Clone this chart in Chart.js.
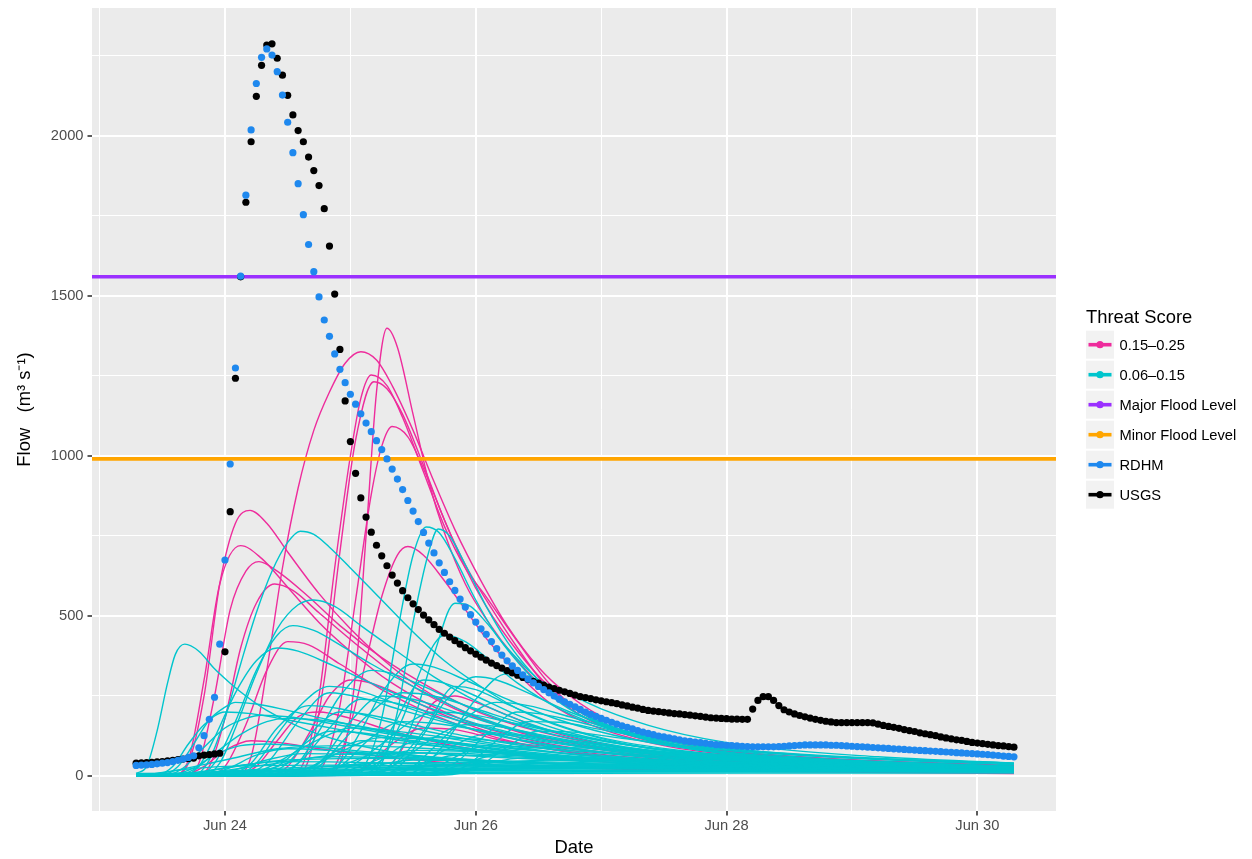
<!DOCTYPE html>
<html><head><meta charset="utf-8">
<script src="https://cdn.jsdelivr.net/npm/chart.js@4/dist/chart.umd.min.js"></script>
<style>html,body{margin:0;padding:0;background:#fff}#wrap{width:1252px;height:859px;position:relative}</style>
</head><body><div id="wrap"><canvas id="c"></canvas></div>
<script>
// hours counted from Jun 24 00:00; hourly series start at Jun 23 07:00
const START_HOUR = -17;
const usgsFlow = [40,41,42,43,44,45,47,49,51,53,55,56,63,65,67,69,71,
388,826,1243,1560,1793,1982,2124,2221,2284,2288,2243,2190,2127,2066,2017,1982,1934,1892,1845,1773,1656,1506,
1333,1172,1045,946,869,809,762,721,688,657,628,603,579,557,538,520,503,488,473,458,446,
434,423,412,401,391,381,371,362,353,345,337,329,322,315,308,302,296,290,284,278,273,268,263,258,253,248,245,242,238,235,232,229,226,222,219,215,212,208,205,203,201,199,197,195,194,192,190,188,186,184,182,181,180,179,178,178,177,
177,209,236,248,248,236,220,207,200,194,189,185,181,177,174,171,169,167,167,167,167,167,167,167,166,162,158,155,152,149,145,142,139,135,132,129,126,122,119,116,113,111,108,105,103,101,99,97,95,94,92,90];
const rdhmFlow = [33,34,35,36,38,40,42,45,49,53,58,63,88,126,177,246,412,
675,975,1275,1562,1815,2019,2164,2246,2272,2253,2201,2128,2043,1948,1851,1754,1661,1576,1497,1425,1374,1319,
1271,1229,1193,1162,1132,1103,1076,1048,1020,991,959,928,895,861,828,795,761,728,697,666,636,607,580,553,528,504,481,460,443,
420,398,378,360,344,330,316,303,291,280,270,260,250,240,232,224,216,208,200,193,186,180,174,168,162,157,152,147,142,137,
133,129,125,122,119,116,113,110,108,106,104,102,100,98,97,96,95,94,93,92,91,91,91,91,91,92,93,94,95,96,
97,97,97,97,97,96,96,95,94,93,92,91,90,89,88,87,86,85,84,83,82,81,80,79,78,77,76,75,74,73,72,71,70,69,68,67,65,64,62,61,60];
const majorFloodLevel = 1560;
const minorFloodLevel = 991;

// ensemble members: [hour, flow] knots
const pinkRuns = [
 [[-17,0],[-10,3],[-7,40],[-4,250],[-1,600],[2,790],[4.8,830],[8,790],[12,700],[18,570],[24,460],[32,340],[40,250],[48,185],[60,120],[80,65],[110,35],[151,18]],
 [[-17,0],[-10,3],[-7,50],[-4,300],[-1,600],[3,720],[7,680],[12,590],[18,480],[24,390],[32,290],[42,200],[54,130],[72,75],[100,40],[151,18]],
 [[-17,0],[-8,2],[-5,40],[-2,250],[1,520],[4,640],[6.5,670],[10,640],[16,560],[22,470],[30,370],[40,270],[50,190],[65,120],[90,60],[151,20]],
 [[-17,0],[-6,2],[-3,30],[0,180],[3,400],[6,540],[9.5,600],[13,580],[18,510],[26,400],[34,300],[44,210],[56,140],[75,80],[105,40],[151,20]],
 [[-17,0],[2,2],[5,60],[8,330],[11,650],[14,900],[17,1080],[20,1200],[23,1290],[26,1326],[29,1300],[32,1220],[36,1080],[40,920],[44,770],[49,610],[54,470],[60,340],[66,250],[74,170],[86,105],[100,70],[120,45],[151,28]],
 [[-17,0],[12,2],[15,40],[18,250],[21,650],[24,1000],[26,1180],[28,1253],[31,1220],[34,1120],[38,950],[42,780],[46,650],[50,560],[56,420],[62,290],[68,200],[80,120],[96,78],[120,50],[151,32]],
 [[-17,0],[13,2],[16,50],[19,300],[22,700],[25,1050],[28.5,1232],[31,1210],[34,1130],[38,970],[42,800],[46,660],[50,550],[56,400],[62,270],[68,190],[80,115],[96,75],[120,48],[151,30]],
 [[-17,0],[19,2],[22,40],[25,320],[27,750],[29,1200],[31,1399],[33,1340],[36,1130],[39,920],[42,760],[46,600],[50,490],[56,360],[62,260],[68,190],[80,115],[96,78],[120,50],[151,33]],
 [[-17,0],[16,2],[19,40],[22,220],[25,550],[28,880],[30,1030],[32,1092],[35,1060],[38,960],[42,800],[46,650],[50,530],[56,390],[62,280],[70,180],[84,105],[100,70],[151,30]],
 [[-17,0],[18,2],[21,30],[24,160],[27,360],[30,560],[33,690],[35,717],[38,690],[42,610],[46,520],[50,430],[56,320],[62,230],[70,160],[84,95],[100,62],[151,28]],
 [[-17,0],[-4,2],[0,30],[4,160],[8,330],[12,420],[16,410],[22,350],[30,270],[40,190],[52,120],[70,65],[100,35],[151,15]],
 [[-17,0],[8,2],[12,30],[16,130],[20,250],[24,300],[28,290],[34,250],[42,190],[52,130],[66,80],[90,45],[151,18]],
 [[-17,0],[2,2],[6,30],[10,110],[14,185],[18,200],[24,180],[32,140],[42,100],[56,65],[80,38],[151,15]],
 [[-17,0],[22,2],[27,30],[32,100],[38,150],[44,145],[52,115],[62,85],[76,55],[100,35],[151,18]],
 [[-17,0],[-8,2],[-4,30],[0,80],[5,110],[10,105],[18,85],[28,65],[40,45],[60,28],[100,15],[151,8]],
 [[-17,0],[28,2],[32,40],[36,140],[40,230],[44,250],[48,230],[54,190],[62,140],[74,95],[96,55],[151,22]]
];
const cyanRuns = [
 [[-17,8],[-15,30],[-13,140],[-11,290],[-9.5,380],[-7.7,412],[-5,390],[-2,335],[1,290],[4,250],[8,205],[14,155],[22,110],[32,75],[46,48],[70,28],[110,17],[151,12]],
 [[-17,0],[-6,3],[-3,50],[0,180],[3,350],[6,510],[9,640],[12,730],[14.4,765],[17,755],[20,715],[24,650],[30,550],[36,450],[42,360],[48,290],[56,210],[66,145],[80,90],[100,55],[151,25]],
 [[-17,0],[24,3],[27,40],[30,180],[33,450],[36,690],[38.5,778],[41,760],[44,680],[48,550],[52,440],[58,320],[64,230],[72,160],[84,100],[100,65],[151,28]],
 [[-17,0],[27,3],[30,40],[33,200],[36,480],[39,700],[40.8,772],[43,750],[46,660],[50,530],[54,420],[60,300],[66,220],[74,150],[86,95],[100,62],[151,27]],
 [[-17,0],[-4,3],[-1,40],[2,150],[6,320],[10,460],[14,535],[17,550],[21,530],[26,470],[32,400],[40,310],[48,235],[58,165],[70,110],[90,65],[151,25]],
 [[-17,0],[-5,3],[-2,40],[2,170],[6,330],[10,440],[13,470],[17,455],[22,410],[28,350],[36,280],[46,200],[58,135],[75,85],[100,50],[151,22]],
 [[-17,0],[-8,3],[-5,30],[-2,120],[2,260],[6,360],[10,400],[14,390],[20,350],[28,290],[38,220],[50,155],[66,100],[90,58],[151,22]],
 [[-17,0],[28,3],[32,40],[36,170],[40,380],[44,540],[47,530],[50,480],[54,400],[60,300],[66,220],[74,155],[86,100],[110,55],[151,28]],
 [[-17,0],[26,3],[30,50],[34,180],[38,350],[42,440],[46,420],[50,370],[56,290],[64,210],[74,145],[90,85],[151,28]],
 [[-17,0],[18,3],[22,40],[26,140],[30,260],[36,350],[40,340],[46,300],[54,240],[64,175],[78,115],[100,65],[151,25]],
 [[-17,0],[30,3],[34,40],[38,130],[42,230],[48,310],[52,300],[58,260],[66,200],[78,135],[96,80],[151,28]],
 [[-17,0],[10,3],[14,40],[18,140],[22,250],[28,330],[32,320],[38,280],[46,220],[56,160],[70,105],[92,60],[151,22]],
 [[-17,0],[2,3],[6,40],[10,130],[15,230],[20,280],[25,270],[32,230],[40,185],[50,135],[64,90],[86,52],[151,20]],
 [[-17,0],[-12,3],[-9,30],[-6,100],[-3,175],[0,215],[2,230],[6,225],[12,205],[20,175],[30,140],[42,105],[58,70],[80,45],[120,25],[151,18]],
 [[-17,0],[-13,3],[-10,30],[-7,100],[-4,160],[0,200],[5,195],[12,175],[22,145],[34,110],[50,75],[72,45],[110,25],[151,15]],
 [[-17,0],[-11,3],[-8,25],[-4,90],[0,150],[4,180],[7,190],[12,185],[20,165],[30,135],[44,100],[62,65],[90,38],[151,18]],
 [[-17,0],[-9,3],[-6,20],[-2,70],[3,130],[8,170],[12,180],[18,175],[26,155],[36,125],[50,90],[70,58],[100,35],[151,18]],
 [[-17,0],[14,3],[18,30],[22,100],[28,200],[34,260],[40,250],[48,210],[58,160],[72,110],[92,68],[151,25]],
 [[-17,0],[32,3],[36,30],[40,90],[46,180],[52,230],[58,220],[66,185],[76,140],[92,95],[116,60],[151,35]],
 [[-17,0],[34,3],[38,30],[42,100],[48,240],[54,320],[58,310],[64,270],[72,210],[84,145],[100,95],[125,60],[151,40]],
 [[-17,0],[20,3],[24,30],[30,100],[36,175],[40,200],[46,195],[54,170],[64,135],[78,95],[100,60],[151,28]],
 [[-17,0],[4,3],[8,25],[14,80],[20,130],[24,150],[30,145],[40,125],[52,95],[68,65],[92,40],[151,20]],
 [[-17,0],[30,3],[36,25],[42,80],[50,130],[56,128],[66,110],[80,82],[100,58],[151,30]],
 [[-17,0],[10,3],[16,25],[22,75],[30,120],[38,115],[48,98],[62,75],[82,50],[110,32],[151,20]],
 [[-17,0],[-10,3],[-6,25],[-2,65],[3,95],[8,100],[16,92],[28,75],[44,55],[66,35],[100,22],[151,14]],
 [[-17,0],[36,3],[42,20],[50,60],[60,90],[68,88],[80,75],[100,55],[125,40],[151,30]],
 [[-17,0],[18,3],[24,20],[30,55],[36,80],[44,78],[56,66],[72,50],[96,35],[151,20]],
 [[-17,0],[-4,3],[2,20],[8,50],[15,70],[24,68],[36,58],[52,45],[76,32],[110,22],[151,15]],
 [[-17,0],[-8,3],[0,25],[12,50],[30,55],[50,48],[80,38],[110,30],[151,24]],
 [[-17,0],[0,3],[12,20],[30,40],[50,42],[80,36],[120,28],[151,24]],
 [[-17,0],[-10,5],[0,15],[20,30],[45,33],[80,28],[120,24],[151,22]],
 [[-17,2],[0,10],[24,20],[48,24],[96,22],[151,20]],
 [[-17,0],[10,3],[30,25],[60,38],[96,32],[151,25]],
 [[-17,5],[0,12],[30,16],[60,18],[100,17],[151,16]],
 [[-17,0],[20,5],[40,30],[64,50],[90,45],[120,36],[151,30]],
 [[-17,0],[-5,8],[10,40],[24,70],[40,72],[60,60],[90,45],[151,26]],
 [[-17,5],[0,8],[48,12],[100,12],[151,12]],
 [[-17,8],[20,10],[80,14],[151,15]],
 [[-17,0],[30,6],[60,25],[90,30],[120,28],[151,26]],
 [[-17,0],[-12,10],[0,50],[10,85],[24,95],[40,85],[60,65],[90,45],[151,22]],
 [[-17,0],[2,3],[8,40],[14,170],[20,260],[26,245],[34,205],[44,160],[56,115],[72,75],[96,45],[151,20]],
 [[-17,0],[8,3],[14,40],[20,150],[26,240],[32,230],[40,195],[50,150],[62,108],[80,70],[110,42],[151,25]],
 [[-17,0],[0,3],[5,40],[10,150],[16,220],[22,210],[30,175],[40,135],[54,95],[72,60],[100,36],[151,18]],
 [[-17,0],[24,3],[28,40],[32,150],[38,300],[42,290],[48,250],[56,190],[66,135],[80,90],[100,58],[151,28]],
 [[-17,0],[28,3],[32,30],[38,140],[44,280],[48,270],[54,225],[62,170],[72,120],[88,78],[110,50],[151,30]],
 [[-17,0],[12,3],[18,40],[24,170],[30,250],[36,240],[44,200],[54,150],[66,105],[84,68],[110,42],[151,25]],
 [[-17,0],[6,3],[12,40],[18,160],[22,200],[28,190],[36,160],[46,125],[60,88],[80,55],[151,20]],
 [[-17,0],[16,3],[22,30],[28,120],[34,170],[40,165],[50,140],[62,105],[78,70],[100,45],[151,24]],
 [[-17,0],[26,3],[32,30],[40,120],[46,160],[52,155],[60,130],[72,95],[90,62],[151,28]],
 [[-17,0],[4,3],[10,30],[16,110],[20,140],[26,135],[36,110],[50,80],[70,52],[100,32],[151,16]],
 [[-17,0],[20,3],[28,30],[34,95],[40,120],[48,115],[60,95],[76,70],[100,48],[151,26]],
 [[-17,0],[10,3],[16,25],[22,85],[26,110],[32,105],[44,88],[60,66],[84,44],[151,20]],
 [[-17,0],[34,3],[40,25],[46,75],[50,95],[56,92],[66,80],[80,62],[104,44],[151,28]],
 [[-17,0],[-6,3],[0,20],[6,65],[12,85],[20,80],[32,66],[48,50],[72,34],[110,22],[151,15]],
 [[-17,0],[14,3],[20,20],[26,55],[30,75],[38,72],[50,60],[68,46],[96,32],[151,20]],
 [[-17,0],[28,3],[34,20],[40,50],[44,65],[52,62],[66,52],[86,40],[120,28],[151,22]],
 [[-17,0],[2,3],[8,20],[14,50],[20,60],[30,58],[44,48],[66,36],[100,25],[151,16]],
 [[-17,0],[40,3],[46,20],[52,45],[56,55],[64,54],[78,46],[100,36],[151,26]],
 [[-17,0],[18,3],[26,20],[32,42],[36,50],[46,48],[62,40],[90,30],[151,20]],
 [[-17,0],[-10,3],[-4,15],[4,35],[10,45],[20,44],[36,38],[60,30],[100,22],[151,15]],
 [[-17,0],[8,3],[16,15],[24,32],[28,40],[40,38],[60,33],[100,26],[151,20]],
 [[-17,0],[36,3],[44,40],[50,130],[56,200],[60,195],[66,175],[76,135],[90,95],[115,60],[151,38]],
 [[-17,0],[40,3],[46,30],[52,110],[58,170],[64,168],[72,145],[84,110],[100,80],[125,55],[151,40]],
 [[-17,0],[42,3],[48,25],[54,90],[60,140],[66,138],[76,118],[90,90],[110,65],[151,40]],
 [[-17,2],[-8,6],[4,14],[30,20],[70,22],[110,20],[151,18]],
 [[-17,1],[0,4],[40,8],[100,9],[151,9]],
 [[-17,3],[-5,10],[15,22],[40,28],[80,26],[151,20]],
 [[-17,0],[-14,6],[-8,20],[0,30],[20,34],[50,30],[100,24],[151,18]]
];

const xMajorHours = [0,48,96,144];
const xMajorLabels = ['Jun 24','Jun 26','Jun 28','Jun 30'];
const xMinorHours = [-24,24,72,120];
const yMajorValues = [0,500,1000,1500,2000];
const yMinorValues = [250,750,1250,1750,2250];

const legendTitle = 'Threat Score';
const legendLabels = ['0.15–0.25','0.06–0.15','Major Flood Level','Minor Flood Level','RDHM','USGS'];

const X_MIN = -25.45, X_MAX = 159.05, Y_MIN = -109.4, Y_MAX = 2400;
const FONT = "'Liberation Sans', Arial, Helvetica, sans-serif";
const PINK = '#EE2C9C', CYAN = '#00C5CD', PURPLE = '#9B30FF', ORANGE = '#FFA500', BLUE = '#1E88EE', BLACK = '#000000';
const legendColors = [PINK, CYAN, PURPLE, ORANGE, BLUE, BLACK];

const series = vals => vals.map((v, i) => ({x: START_HOUR + i, y: v}));
const knots = run => run.map(([h, v]) => ({x: h, y: v}));

const datasets = [];
datasets.push({label:'RDHM', data: series(rdhmFlow), showLine:false, pointRadius:3.6, pointHoverRadius:3.6, pointBackgroundColor:BLUE, pointBorderWidth:0, order:0});
datasets.push({label:'USGS', data: series(usgsFlow), showLine:false, pointRadius:3.6, pointHoverRadius:3.6, pointBackgroundColor:BLACK, pointBorderWidth:0, order:1});
datasets.push({label:'Major Flood Level', data:[{x:X_MIN,y:majorFloodLevel},{x:X_MAX,y:majorFloodLevel}], borderColor:PURPLE, borderWidth:3.6, pointRadius:0, order:2});
datasets.push({label:'Minor Flood Level', data:[{x:X_MIN,y:minorFloodLevel},{x:X_MAX,y:minorFloodLevel}], borderColor:ORANGE, borderWidth:3.6, pointRadius:0, order:3});
cyanRuns.forEach((r, i) => datasets.push({label:'0.06–0.15 #' + (i+1), data: knots(r), borderColor:CYAN, borderWidth:1.4, pointRadius:0, cubicInterpolationMode:'monotone', order:4}));
pinkRuns.forEach((r, i) => datasets.push({label:'0.15–0.25 #' + (i+1), data: knots(r), borderColor:PINK, borderWidth:1.4, pointRadius:0, cubicInterpolationMode:'monotone', order:5}));

const isIn = (arr, v) => arr.some(a => Math.abs(a - v) < 1e-6);

const panelBg = {
  id: 'panelBg',
  beforeDraw(chart) {
    const {ctx, chartArea: a} = chart;
    ctx.save();
    ctx.fillStyle = '#EBEBEB';
    ctx.fillRect(a.left, a.top, a.right - a.left, a.bottom - a.top);
    ctx.restore();
  }
};

const ggLegend = {
  id: 'ggLegend',
  afterDraw(chart) {
    const ctx = chart.ctx;
    const a = chart.chartArea;
    const x0 = a.right + 30;
    ctx.save();
    ctx.fillStyle = '#000';
    ctx.font = '18.4px ' + FONT;
    ctx.textAlign = 'left';
    ctx.textBaseline = 'alphabetic';
    ctx.fillText(legendTitle, x0, 322.5);
    legendLabels.forEach((lab, i) => {
      const cy = 344.7 + 30 * i;
      ctx.fillStyle = '#F2F2F2';
      ctx.fillRect(x0, cy - 14, 28, 28);
      ctx.strokeStyle = legendColors[i];
      ctx.lineWidth = 3.6;
      ctx.beginPath();
      ctx.moveTo(x0 + 2.5, cy);
      ctx.lineTo(x0 + 25.5, cy);
      ctx.stroke();
      ctx.fillStyle = legendColors[i];
      ctx.beginPath();
      ctx.arc(x0 + 14, cy, 3.6, 0, Math.PI * 2);
      ctx.fill();
      ctx.fillStyle = '#000';
      ctx.font = '14.7px ' + FONT;
      ctx.textBaseline = 'middle';
      ctx.fillText(lab, x0 + 33.5, cy + 1);
    });
    ctx.restore();
  }
};

new Chart(document.getElementById('c'), {
  type: 'line',
  data: { datasets },
  plugins: [panelBg, ggLegend],
  options: {
    responsive: true,
    maintainAspectRatio: false,
    animation: false,
    events: [],
    layout: { padding: { top: 8, right: 196, left: 0, bottom: 0 } },
    plugins: { legend: { display: false }, tooltip: { enabled: false } },
    scales: {
      x: {
        type: 'linear', min: X_MIN, max: X_MAX,
        afterBuildTicks: s => { s.ticks = [...xMinorHours, ...xMajorHours].sort((p, q) => p - q).map(v => ({value: v})); },
        afterFit: s => { s.height = 48; s.paddingLeft = 0; s.paddingRight = 0; },
        ticks: {
          autoSkip: false, maxRotation: 0, padding: 2, color: '#4D4D4D',
          font: { family: FONT, size: 14.7 },
          callback: v => { const k = xMajorHours.findIndex(h => Math.abs(h - v) < 1e-6); return k >= 0 ? xMajorLabels[k] : ''; }
        },
        grid: {
          color: '#FFFFFF',
          lineWidth: c => (c.tick && isIn(xMajorHours, c.tick.value)) ? 2 : 1,
          tickLength: 4.5,
          tickWidth: 1.6,
          tickColor: c => (c.tick && isIn(xMajorHours, c.tick.value)) ? '#333333' : 'rgba(0,0,0,0)'
        },
        border: { display: false },
        title: { display: true, text: 'Date', color: '#000', font: { family: FONT, size: 18.4 }, padding: { top: 0, bottom: 0 } }
      },
      y: {
        type: 'linear', min: Y_MIN, max: Y_MAX,
        afterBuildTicks: s => { s.ticks = [...yMajorValues, ...yMinorValues].sort((p, q) => p - q).map(v => ({value: v})); },
        afterFit: s => { s.width = 92; s.paddingTop = 0; s.paddingBottom = 0; },
        ticks: {
          autoSkip: false, padding: 4, color: '#4D4D4D',
          font: { family: FONT, size: 14.7 },
          callback: v => isIn(yMajorValues, v) ? String(v) : ''
        },
        grid: {
          color: '#FFFFFF',
          lineWidth: c => (c.tick && isIn(yMajorValues, c.tick.value)) ? 2 : 1,
          tickLength: 4.5,
          tickWidth: 1.6,
          tickColor: c => (c.tick && isIn(yMajorValues, c.tick.value)) ? '#333333' : 'rgba(0,0,0,0)'
        },
        border: { display: false },
        title: { display: true, text: 'Flow   (m³ s⁻¹)', color: '#000', font: { family: FONT, size: 18.4 }, padding: { top: 14, bottom: 0 } }
      }
    }
  }
});
</script></body></html>
